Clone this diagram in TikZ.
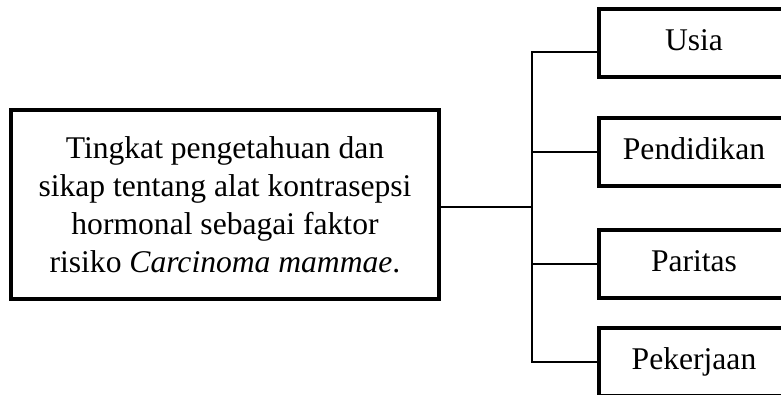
\documentclass[tikz,border=0pt]{standalone}
\usepackage{fontspec}
\setmainfont{Liberation Serif}
\usetikzlibrary{positioning,calc}

\begin{document}
\begin{tikzpicture}[x=0.75pt,y=-0.75pt]

        % Gaya kotak dan garis penghubung
        \tikzset{
            kotak/.style={draw, line width=2.5pt, align=center, inner sep=0pt,
                font=\fontsize{23.7pt}{28.5pt}\selectfont},
            kotakkecil/.style={kotak, minimum width=142.5pt, minimum height=51pt,
                text height=16.6pt, text depth=5.9pt},
            garis/.style={line width=1.4pt},
        }

        % Batas gambar (kotak kanan terpotong di tepi)
        \useasboundingbox (0,0) rectangle (781,394);
        \clip (0,0) rectangle (781,394);

        % Kotak utama
        \node[kotak, minimum width=321pt, minimum height=141.75pt] (topik) at (225,204.5)
            {Tingkat pengetahuan dan\\
             sikap tentang alat kontrasepsi\\
             hormonal sebagai faktor\\
             risiko \textit{Carcinoma mammae}.};

        % Kotak faktor
        \node[kotakkecil] (usia) at (694,43) {Usia};
        \node[kotakkecil] (pendidikan) at (694,152) {Pendidikan};
        \node[kotakkecil] (paritas) at (694,264) {Paritas};
        \node[kotakkecil] (pekerjaan) at (694,362) {Pekerjaan};

        % Titik cabang
        \coordinate (cabang) at (532,207);

        \draw[garis] (topik.east |- cabang) -- (cabang);
        \draw[garis] ([yshift=-6.75pt]usia.west) -| (cabang) |- (pekerjaan.west);
        \draw[garis] (cabang |- pendidikan.west) -- (pendidikan.west);
        \draw[garis] (cabang |- paritas.west) -- (paritas.west);
        \end{tikzpicture}
\end{document}
